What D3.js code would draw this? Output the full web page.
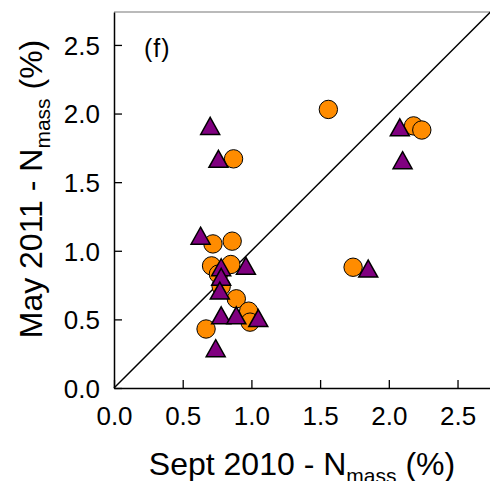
<!DOCTYPE html>
<html>
<head>
<meta charset="utf-8">
<script src="https://cdn.jsdelivr.net/npm/d3@7"></script>
<style>
  html, body { margin: 0; padding: 0; background: #fff; }
  svg { display: block; }
  text { font-family: "Liberation Sans", Arial, sans-serif; fill: #000; }
</style>
</head>
<body>
<svg id="chart" width="490" height="481"></svg>
<script>
// Data (Sept 2010 N_mass vs May 2011 N_mass, %)
const circleX = [1.56, 2.18, 2.24, 0.87, 0.72, 0.86, 0.71, 0.85, 1.74, 0.76, 0.78, 0.89, 0.98, 0.99, 0.67];
const circleY = [2.03, 1.91, 1.88, 1.67, 1.05, 1.07, 0.89, 0.90, 0.88, 0.83, 0.74, 0.65, 0.56, 0.48, 0.43];
const triX = [0.70, 0.76, 2.08, 2.10, 0.63, 0.78, 0.96, 1.85, 0.78, 0.77, 0.78, 0.89, 1.05, 0.74];
const triY = [1.91, 1.67, 1.90, 1.66, 1.11, 0.88, 0.89, 0.87, 0.81, 0.71, 0.53, 0.53, 0.51, 0.29];
const tickValues = [0.0, 0.5, 1.0, 1.5, 2.0, 2.5];
const domainMax = 2.74;

const svg = d3.select("#chart");
const x = d3.scaleLinear().domain([0, domainMax]).range([114, 490.5]);
const y = d3.scaleLinear().domain([0, domainMax]).range([388, 12]);

// frame: top border (grey), right border off-image
svg.append("line").attr("x1", x(0)).attr("x2", x(domainMax) + 2)
  .attr("y1", y(domainMax)).attr("y2", y(domainMax))
  .attr("stroke", "#777").attr("stroke-width", 1.2);

// 1:1 line
svg.append("line")
  .attr("x1", x(0)).attr("y1", y(0))
  .attr("x2", x(domainMax)).attr("y2", y(domainMax))
  .attr("stroke", "#000").attr("stroke-width", 1.5);

// axes with inward ticks
const xAxis = d3.axisBottom(x).tickValues(tickValues).tickFormat(d3.format(".1f"))
  .tickSizeInner(-8).tickSizeOuter(0).tickPadding(19);
const yAxis = d3.axisLeft(y).tickValues(tickValues).tickFormat(d3.format(".1f"))
  .tickSizeInner(-8).tickSizeOuter(0).tickPadding(14);

const gx = svg.append("g").attr("transform", `translate(0,${y(0)})`).call(xAxis);
const gy = svg.append("g").attr("transform", `translate(${x(0)},0)`).call(yAxis);
[gx, gy].forEach(g => {
  g.select(".domain").attr("stroke", "#000").attr("stroke-width", 1.5);
  g.selectAll(".tick line").attr("stroke", "#000").attr("stroke-width", 1.3);
  g.selectAll(".tick text").attr("font-size", 26)
    .attr("font-family", "Liberation Sans, Arial, sans-serif").attr("fill", "#000");
});
gx.selectAll(".tick text").attr("dy", "0.71em");
gy.selectAll(".tick text").attr("dy", "0.36em");

// points: circles
svg.append("g").selectAll("circle")
  .data(circleX.map((v, i) => [v, circleY[i]]))
  .join("circle")
  .attr("cx", d => x(d[0])).attr("cy", d => y(d[1]))
  .attr("r", 9.2)
  .attr("fill", "#FF8C00").attr("stroke", "#000").attr("stroke-width", 1);

// points: triangles (bbox centered)
const tw = 19, th = 17;
svg.append("g").selectAll("path")
  .data(triX.map((v, i) => [v, triY[i]]))
  .join("path")
  .attr("d", d => {
    const cx = x(d[0]), cy = y(d[1]);
    return `M${cx},${cy - th / 2}L${cx + tw / 2},${cy + th / 2}L${cx - tw / 2},${cy + th / 2}Z`;
  })
  .attr("fill", "#800080").attr("stroke", "#000").attr("stroke-width", 1.5)
  .attr("stroke-linejoin", "miter");

// panel label
svg.append("text").attr("x", 144).attr("y", 57).attr("font-size", 25)
  .attr("letter-spacing", 1).text("(f)");

// x title
const xt = svg.append("text").attr("x", 302).attr("y", 475)
  .attr("text-anchor", "middle").attr("font-size", 32);
xt.append("tspan").text("Sept 2010 - N");
xt.append("tspan").attr("font-size", 21).attr("dy", 8).text("mass");
xt.append("tspan").attr("dy", -8).text(" (%)");

// y title
const yt = svg.append("text").attr("transform", "translate(42,189) rotate(-90)")
  .attr("text-anchor", "middle").attr("font-size", 32);
yt.append("tspan").text("May 2011 - N");
yt.append("tspan").attr("font-size", 21).attr("dy", 8).text("mass");
yt.append("tspan").attr("dy", -8).text(" (%)");
</script>
</body>
</html>
